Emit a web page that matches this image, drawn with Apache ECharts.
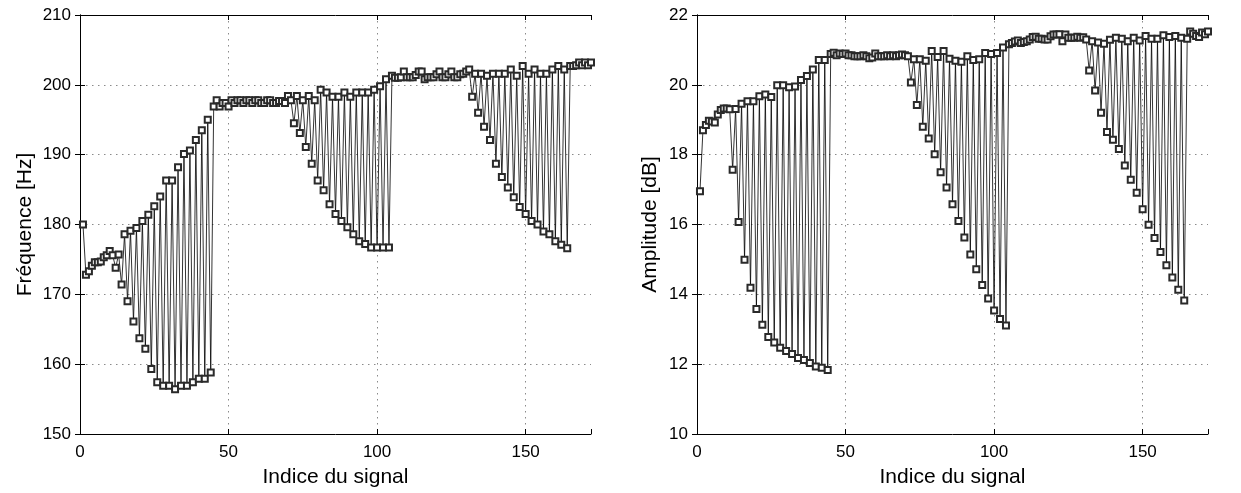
<!DOCTYPE html>
<html>
<head>
<meta charset="utf-8">
<script src="https://cdn.jsdelivr.net/npm/echarts@6/dist/echarts.min.js"></script>
<style>
html,body{margin:0;padding:0;background:#fff;}
#c{width:1241px;height:493px;}
</style>
</head>
<body>
<div id="c"></div>
<script>
// Fréquence [Hz], indices 1..172
const freqValues = [
180.0,172.8,173.3,174.1,174.6,174.6,174.7,175.3,175.6,176.2,
175.6,173.8,175.7,171.4,178.6,169.0,179.1,166.1,179.5,163.7,
180.5,162.2,181.4,159.3,182.6,157.4,184.0,156.9,186.3,156.9,
186.3,156.4,188.2,156.9,190.1,156.9,190.6,157.4,192.1,157.9,
193.5,157.9,195.0,158.8,196.9,
197.8,196.9,197.4,197.4,196.9,197.8,197.4,197.8,197.8,197.4,
197.8,197.8,197.4,197.8,197.8,197.4,197.4,197.8,197.8,197.4,
197.4,197.7,197.7,197.4,198.4,197.8,
194.5,198.4,193.1,197.8,191.1,198.4,188.7,197.8,186.3,199.3,
184.9,198.9,182.9,198.3,181.5,198.3,180.5,198.9,179.6,198.3,
178.6,198.9,177.6,198.9,177.2,198.9,176.7,199.3,176.7,199.8,
176.7,200.8,176.7,
201.3,201.0,201.0,201.1,201.9,201.1,201.1,201.1,201.4,201.9,
201.9,200.8,201.1,201.1,201.1,201.5,201.9,201.1,201.1,201.5,
201.9,201.1,201.1,201.5,201.6,201.9,202.2,
198.3,201.6,196.0,201.6,194.0,201.3,192.1,201.6,188.7,201.6,
186.8,201.6,185.3,202.2,183.9,201.3,182.5,202.7,181.5,201.6,
180.5,202.2,180.0,201.6,179.0,201.6,178.6,202.2,177.6,202.7,
177.1,202.2,176.6,202.7,
202.7,202.8,203.2,202.8,203.2,202.8,203.2
];
// Amplitude [dB], indices 1..172
const ampValues = [
16.95,18.70,18.85,18.97,18.95,18.92,19.15,19.28,19.32,19.32,
19.30,17.57,19.31,16.07,19.46,14.99,19.53,14.19,19.53,13.58,
19.67,13.13,19.72,12.78,19.65,12.62,19.99,12.47,19.99,12.38,
19.93,12.29,19.95,12.18,20.14,12.12,20.25,12.03,20.44,11.93,
20.71,11.90,20.71,11.83,20.88,
20.92,20.85,20.90,20.88,20.90,20.85,20.85,20.82,20.82,20.82,
20.85,20.82,20.76,20.78,20.90,20.82,20.82,20.82,20.85,20.82,
20.85,20.82,20.85,20.87,20.85,20.82,
20.07,20.73,19.42,20.73,18.80,20.69,18.46,20.97,18.01,20.80,
17.50,20.97,17.06,20.75,16.58,20.69,16.10,20.66,15.63,20.82,
15.14,20.71,14.72,20.73,14.27,20.91,13.88,20.88,13.54,20.91,
13.29,21.07,13.11,
21.16,21.20,21.24,21.27,21.20,21.23,21.25,21.30,21.37,21.38,
21.32,21.32,21.30,21.30,21.39,21.44,21.44,21.45,21.25,21.44,
21.35,21.35,21.35,21.38,21.35,21.36,21.30,
20.41,21.25,19.84,21.21,19.20,21.18,18.65,21.29,18.43,21.35,
18.16,21.32,17.69,21.25,17.28,21.35,16.91,21.27,16.44,21.40,
15.99,21.32,15.61,21.32,15.21,21.42,14.83,21.37,14.48,21.40,
14.13,21.35,13.82,21.32,
21.53,21.46,21.40,21.37,21.50,21.45,21.53
];
const xTicks = [0, 50, 100, 150];
const freqTicks = [150, 160, 170, 180, 190, 200, 210];
const ampTicks = [10, 12, 14, 16, 18, 20, 22];
const xLabel = 'Indice du signal';
const freqLabel = 'Fréquence [Hz]';
const ampLabel = 'Amplitude [dB]';

const XMAX = 172;
const FONT = 'Liberation Sans';

function pairs(vals){ return vals.map((v,i)=>[i+1, v]); }

const grids = [
  {left:80, top:15, width:511, height:422},
  {left:697, top:15, width:511, height:422}
];
const gridDash = {color:'#8a8a8a', width:1, type:[1.5,4.5]};

function mainX(gi){
  return {type:'value', gridIndex:gi, min:0, max:XMAX, interval:50, position:'bottom',
    name:xLabel, nameLocation:'middle', nameGap:33,
    nameTextStyle:{fontFamily:FONT, fontSize:21, color:'#000'},
    axisLine:{show:true, lineStyle:{color:'#000', width:1}},
    axisTick:{show:true, inside:true, length:5, lineStyle:{color:'#000'}},
    axisLabel:{fontFamily:FONT, fontSize:17, color:'#000', margin:10,
      formatter:(v)=> xTicks.indexOf(v)>=0 ? String(v) : ''},
    splitLine:{show:true, lineStyle:gridDash, showMinLine:false, showMaxLine:false}
  };
}
function topX(gi){
  return {type:'value', gridIndex:gi, min:0, max:XMAX, interval:50, position:'top',
    axisLine:{show:true, lineStyle:{color:'#000', width:1}},
    axisTick:{show:true, inside:true, length:5, lineStyle:{color:'#000'}},
    axisLabel:{show:false}, splitLine:{show:false}};
}
function mainY(gi, ticks, name, gap){
  return {type:'value', gridIndex:gi, min:ticks[0], max:ticks[ticks.length-1],
    interval:ticks[1]-ticks[0], position:'left',
    name:name, nameLocation:'middle', nameGap:gap,
    nameTextStyle:{fontFamily:FONT, fontSize:21, color:'#000'},
    axisLine:{show:true, lineStyle:{color:'#000', width:1}},
    axisTick:{show:true, inside:true, length:5, lineStyle:{color:'#000'}},
    axisLabel:{fontFamily:FONT, fontSize:17, color:'#000', margin:9,
      formatter:(v)=> ticks.indexOf(v)>=0 ? String(v) : ''},
    splitLine:{show:true, lineStyle:gridDash, showMinLine:false, showMaxLine:false}
  };
}
function rightY(gi, ticks){
  return {type:'value', gridIndex:gi, min:ticks[0], max:ticks[ticks.length-1],
    interval:ticks[1]-ticks[0], position:'right',
    axisLine:{show:true, lineStyle:{color:'#000', width:1}},
    axisTick:{show:true, inside:true, length:5, lineStyle:{color:'#000'}},
    axisLabel:{show:false}, splitLine:{show:false}};
}
function lineSeries(xi, yi, vals){
  return {type:'line', xAxisIndex:xi, yAxisIndex:yi, data:pairs(vals),
    symbol:'emptyRect', symbolSize:6, showAllSymbol:true,
    lineStyle:{color:'#000', width:0.8},
    itemStyle:{color:'#2a2a2a', borderColor:'#2a2a2a', borderWidth:1},
    emphasis:{disabled:true}, animation:false, z:3};
}

const chart = echarts.init(document.getElementById('c'), null, {renderer:'canvas'});
chart.setOption({
  backgroundColor:'#fff',
  animation:false,
  grid:grids,
  xAxis:[mainX(0), topX(0), mainX(1), topX(1)],
  yAxis:[mainY(0, freqTicks, freqLabel, 44), rightY(0, freqTicks),
         mainY(1, ampTicks, ampLabel, 36), rightY(1, ampTicks)],
  series:[lineSeries(0, 0, freqValues), lineSeries(2, 2, ampValues)]
});
</script>
</body>
</html>
